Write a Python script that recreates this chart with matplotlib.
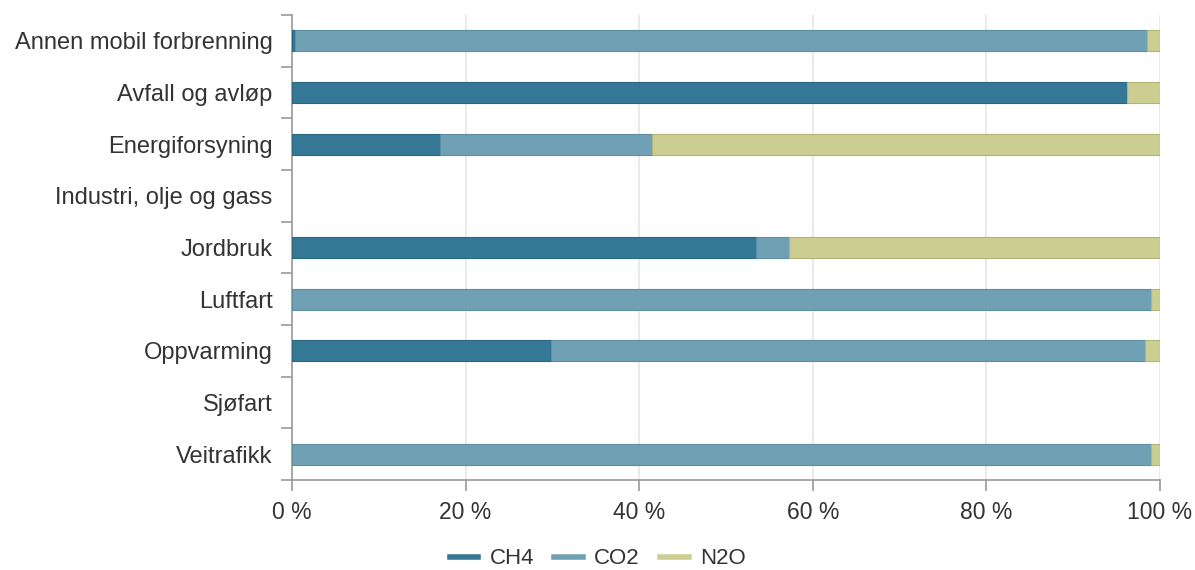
import matplotlib
matplotlib.use("Agg")
import matplotlib.pyplot as plt
from matplotlib.lines import Line2D
import numpy as np

categories = ["Annen mobil forbrenning", "Avfall og avløp", "Energiforsyning",
              "Industri, olje og gass", "Jordbruk", "Luftfart", "Oppvarming",
              "Sjøfart", "Veitrafikk"]
ch4 = [0.3, 96.2, 17.0, 0, 53.5, 0.0, 29.8, 0, 0.0]
co2 = [98.2, 0.0, 24.5, 0, 3.8, 99.0, 68.5, 0, 99.0]
n2o = [1.5, 3.8, 58.5, 0, 42.7, 1.0, 1.7, 0, 1.0]
series_names = ["CH4", "CO2", "N2O"]
colors = ["#347896", "#6fa0b3", "#cccd91"]
edges = ["#2b6783", "#5d8ea1", "#b3b47a"]
xticks = [0, 20, 40, 60, 80, 100]
xticklabels = ["0 %", "20 %", "40 %", "60 %", "80 %", "100 %"]

plt.rcParams['font.family'] = ['Liberation Sans', 'DejaVu Sans']
fig = plt.figure(figsize=(11.95, 5.7), dpi=100)
ax = fig.add_axes([292/1195, 1-480/570, (1160-292)/1195, (480-15)/570])

y = np.arange(len(categories))
left = np.zeros(len(categories))
for vals, c, e in zip([ch4, co2, n2o], colors, edges):
    vals = np.array(vals, dtype=float)
    m = vals > 0
    ax.barh(y[m], vals[m], left=left[m], height=0.41, color=c, edgecolor=e,
            linewidth=0.8, zorder=3)
    left += vals

ax.set_ylim(len(categories) - 0.5, -0.5)
ax.set_xlim(0, 100)
ax.set_yticks(y)
ax.set_yticklabels(categories, fontsize=17, color="#333333")
ax.set_yticks(np.arange(-0.5, len(categories)), minor=True)
ax.tick_params(axis='y', which='major', length=0, pad=14)
ax.tick_params(axis='y', which='minor', length=8, color="#999999", width=1.2)
ax.set_xticks(xticks)
ax.set_xticklabels(xticklabels, fontsize=16.5, color="#333333")
ax.tick_params(axis='x', length=8, color="#999999", width=1.2, pad=7)
ax.grid(axis='x', color="#e6e6e6", linewidth=1.2, zorder=0)
for s in ["top", "right"]:
    ax.spines[s].set_visible(False)
for s in ["left", "bottom"]:
    ax.spines[s].set_color("#999999")
    ax.spines[s].set_linewidth(1.2)

handles = [Line2D([0], [0], color=c, linewidth=4) for c in colors]
fig.legend(handles, series_names, loc="center", bbox_to_anchor=(0.5, 1-559/570),
           ncol=3, frameon=False, fontsize=16, handlelength=1.3, columnspacing=0.9,
           handletextpad=0.5, labelcolor="#333333")

fig.savefig("out.png", dpi=100)
